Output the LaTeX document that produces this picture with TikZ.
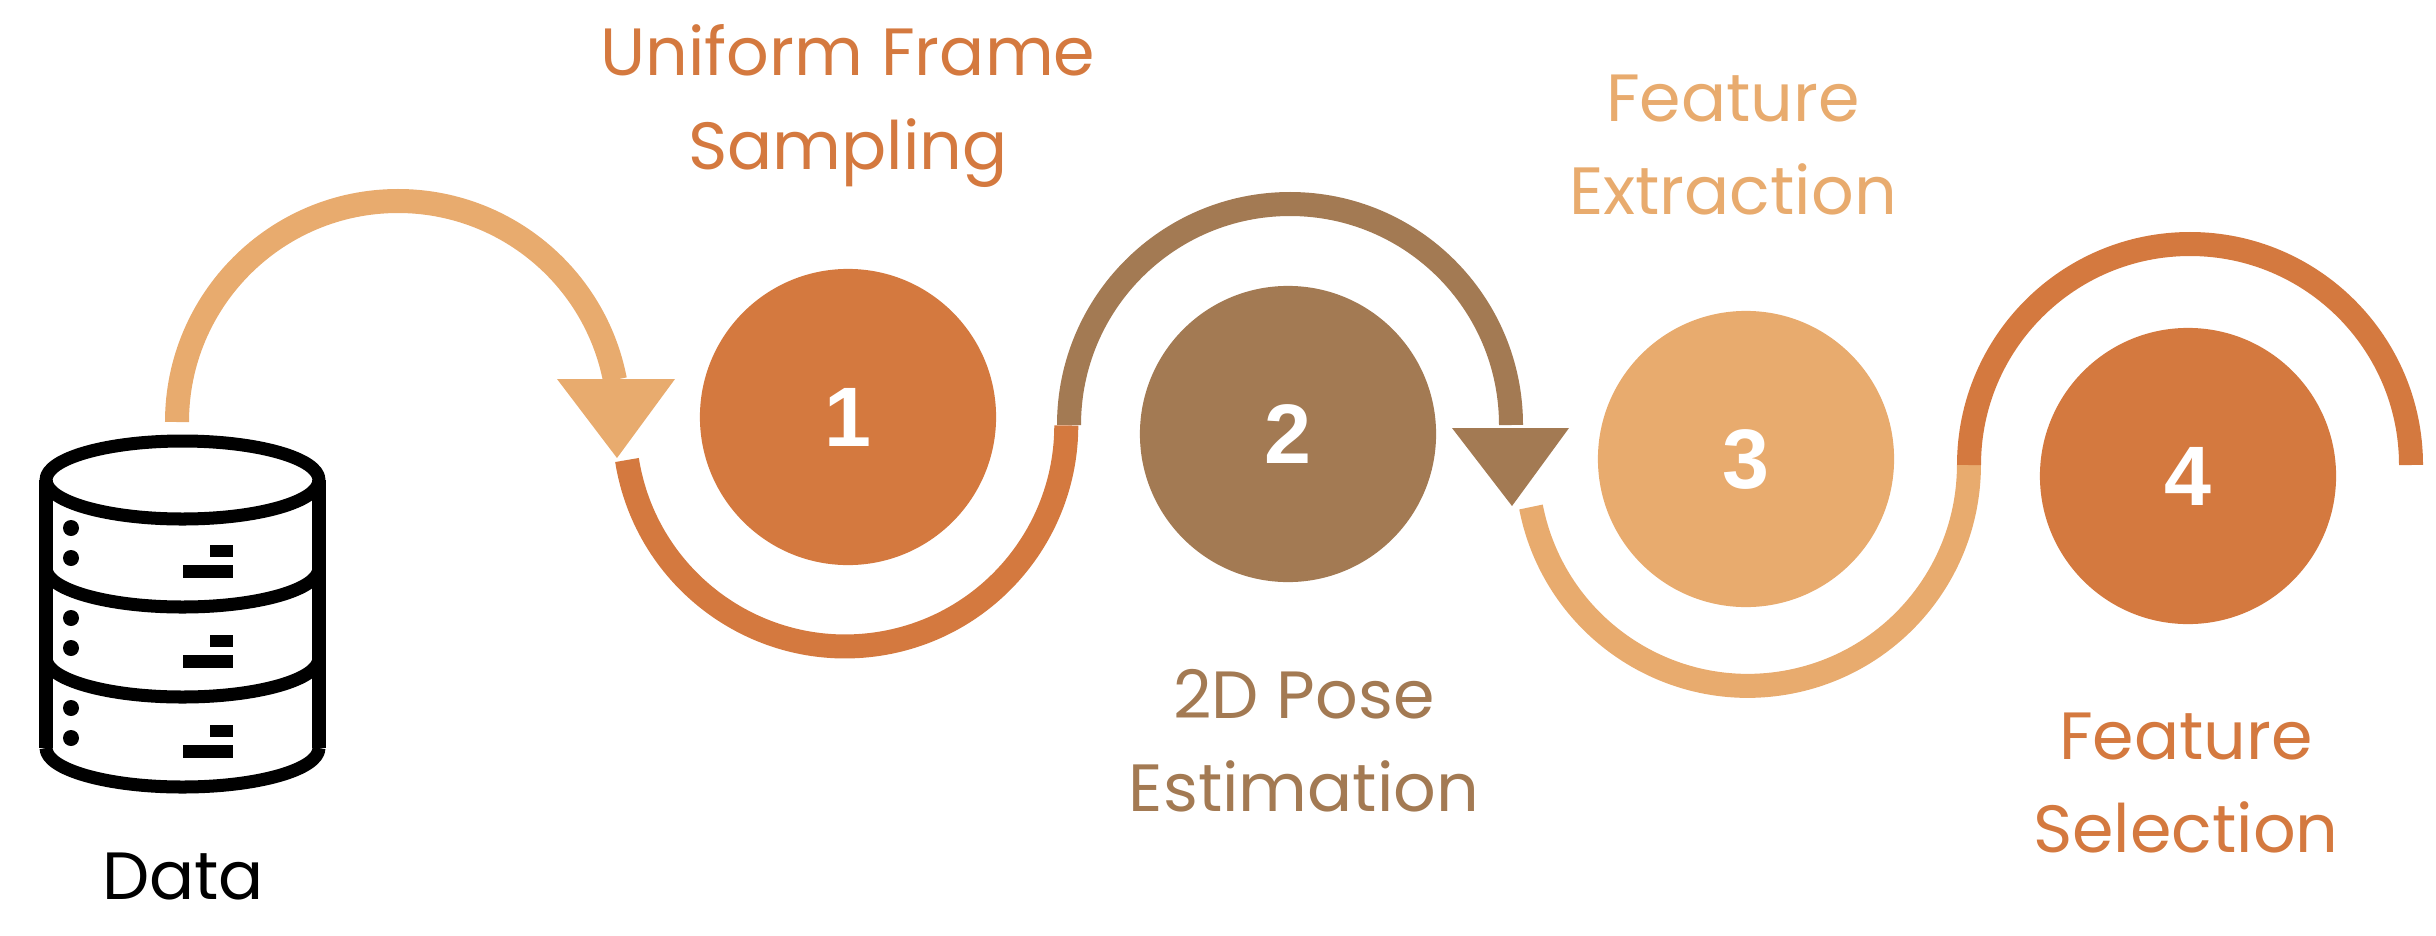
\documentclass[tikz,border=0pt]{standalone}
\usepackage{fontspec}
\setmainfont{Poppins}
\newfontfamily\numfont{Liberation Sans}
\definecolor{darkor}{HTML}{D4793F}
\definecolor{brownor}{HTML}{A37A53}
\definecolor{lightor}{HTML}{E8AB6E}
\tikzset{
  step/.style={circle,fill=#1,draw=none,minimum size=2.96cm,inner sep=0pt,text=white,font=\numfont\bfseries\fontsize{24}{24}\selectfont},
  loop/.style={draw=#1,line width=0.24cm},
  label/.style={text=#1,align=center,font=\fontsize{19}{26.5}\selectfont},
  dbline/.style={line width=0.13cm,line join=round}
}
\begin{document}
\begin{tikzpicture}[x=0.01cm,y=0.01cm]
\useasboundingbox (0,0) rectangle (2436,935);

%%%Database icon
\begin{scope}
%Top ellipse, bands and sides
\draw[dbline] (182.5,455) ellipse (136.5 and 39);
\foreach \y in {367,277,187} \draw[dbline] (46,\y) arc[start angle=180,end angle=360,x radius=136.5,y radius=39];
\draw[dbline] (46,455) -- (46,187);
\draw[dbline] (319,455) -- (319,187);
%Dots and bars of each band
\foreach \d in {0,90,180} {
  \fill (71,407-\d) circle (8) (71,377-\d) circle (8);
  \fill (210,378-\d) rectangle (233,390-\d);
  \fill (183,357-\d) rectangle (233,370-\d);
}
\node[label=black] (data) at (183,58) {Data};
\end{scope}

%%%Steps
\node[step=darkor] (s1) at (848,518) {1};
\node[step=brownor] (s2) at (1288,501) {2};
\node[step=lightor] (s3) at (1746,476) {3};
\node[step=darkor] (s4) at (2188,459) {4};

%%%Winding path and arrow heads
\draw[loop=lightor] (177,513) arc[start angle=180,end angle=11,radius=221];
\draw[loop=darkor] (627,475) arc[start angle=189,end angle=360,radius=221];
\fill[lightor] (557,556) -- (675,556) -- (617,477) -- cycle;
\draw[loop=brownor] (1069,510) arc[start angle=180,end angle=0,radius=221];
\draw[loop=lightor] (1531,428) arc[start angle=191,end angle=360,radius=221];
\fill[brownor] (1452,507) -- (1569,507) -- (1512,429) -- cycle;
\draw[loop=darkor] (1969,470) arc[start angle=180,end angle=0,radius=221];

%%%Labels
\node[label=darkor] (l1) at (848,829) {Uniform Frame\\Sampling};
\node[label=brownor] (l2) at (1304,194) {2D Pose\\Estimation};
\node[label=lightor] (l3) at (1733,790) {Feature\\Extraction};
\node[label=darkor] (l4) at (2186,152) {Feature\\Selection};
\end{tikzpicture}
\end{document}
